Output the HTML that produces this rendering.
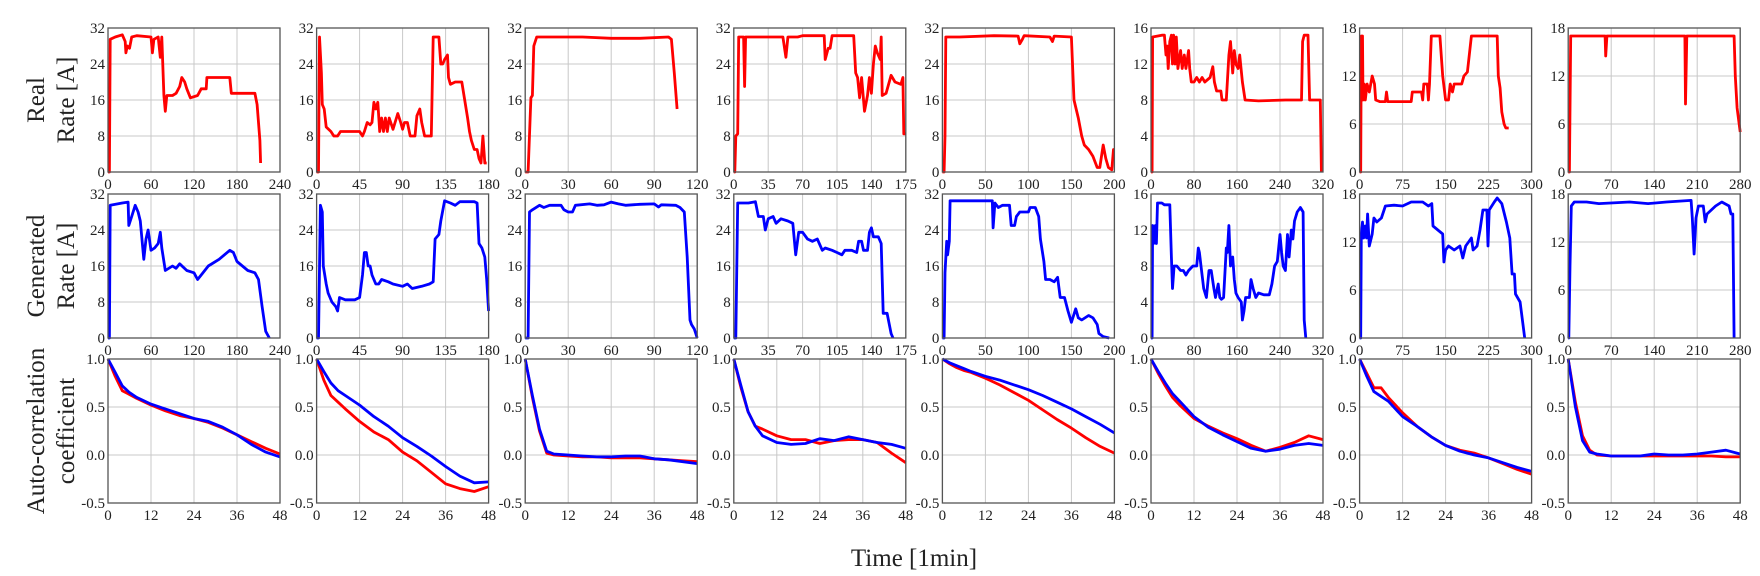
<!DOCTYPE html>
<html><head><meta charset="utf-8">
<style>
html,body{margin:0;padding:0;background:#fff;}
svg{display:block;}
text{font-family:"Liberation Serif",serif;fill:#222;}
</style></head>
<body>
<svg id="fig" width="1760" height="576" viewBox="0 0 1760 576" xmlns="http://www.w3.org/2000/svg">
<text transform="translate(44,100) rotate(-90)" text-anchor="middle" font-size="25">Real</text>
<text transform="translate(74,100) rotate(-90)" text-anchor="middle" font-size="25">Rate [A]</text>
<text transform="translate(44,266) rotate(-90)" text-anchor="middle" font-size="25">Generated</text>
<text transform="translate(74,266) rotate(-90)" text-anchor="middle" font-size="25">Rate [A]</text>
<text transform="translate(44,431) rotate(-90)" text-anchor="middle" font-size="25">Auto-correlation</text>
<text transform="translate(74,431) rotate(-90)" text-anchor="middle" font-size="25">coefficient</text>
<text x="914" y="566" text-anchor="middle" font-size="25">Time [1min]</text>
</svg>
<script>
const xMax=[240,180,120,175,200,320,300,280];
const xStep=[60,45,30,35,50,80,75,70];
const yMax=[32,32,32,32,32,16,18,18];
const yStep=[8,8,8,8,8,4,6,6];
const realData=[
[[0,0],[2,0],[3,29.5],[10,30],[20,30.5],[24,29],[25,26.5],[27,28],[30,27.5],[33,30],[40,30.3],[60,30],[62,26.5],[64,29.5],[70,30],[73,25.5],[75,30],[78,17],[80,13.5],[82,17],[90,17],[95,17.5],[100,19],[103,21],[107,20],[110,18.5],[115,16.5],[125,17],[130,18.5],[137,18.5],[138,21],[170,21],[172,17.5],[205,17.5],[208,15],[212,7],[213,2]],
[[0,0],[2,0],[3,30],[5,22],[6,15],[8,14],[10,10],[15,9],[18,8],[22,8],[25,9],[45,9],[48,8],[50,9],[53,11],[56,10.5],[58,11],[60,15.5],[62,14],[64,15.5],[66,9],[68,12],[70,9],[72,12],[74,9],[76,12],[80,9.5],[85,13],[88,11],[90,9.5],[92,11],[95,11],[98,8],[103,8],[105,12.5],[108,14],[110,11],[113,8],[120,8],[122,30],[128,30],[130,24],[132,24],[134,25],[137,26],[138,21],[140,19.5],[145,20],[152,20],[155,16],[158,12],[160,9],[162,7],[165,5],[168,5],[170,3],[172,2],[174,8],[176,2],[178,2]],
[[0,0],[2,0],[4,16.5],[5,17],[6,28],[8,30],[20,30],[40,30],[60,29.7],[80,29.7],[100,30],[102,29.5],[104,22],[106,14]],
[[0,0],[1,0],[2,8],[4,8.5],[5,30],[10,30],[11,19],[12,30],[20,30],[50,30],[53,25.5],[55,30],[65,30],[70,30.3],[92,30.3],[93,25],[96,27.5],[98,27.5],[100,30.3],[122,30.3],[124,22],[126,21],[128,16.5],[130,21],[133,13.5],[136,17],[138,21],[140,17.5],[142,24],[144,28],[146,26.5],[149,25],[150,30],[151,17],[155,17.5],[160,21.5],[164,20],[170,19.5],[172,21],[173,8.5],[175,8.5]],
[[0,0],[2,0],[3,8],[4,30],[20,30],[60,30.3],[88,30.2],[90,28.5],[93,29.5],[95,30.3],[125,30],[128,29],[130,30.2],[150,30],[153,16],[158,12],[162,8],[165,6],[170,5],[175,3.5],[180,1],[183,1],[187,6],[190,3],[193,1],[197,0.5],[199,5],[200,5]],
[[0,0],[2,0],[3,15],[20,15.2],[25,15.2],[28,13],[30,14],[32,11.5],[35,14.5],[38,15.2],[40,12],[42,15.2],[45,12],[47,15],[50,11.5],[55,13.5],[58,11.5],[62,13],[65,11.5],[70,13.5],[72,11.5],[75,10],[80,10],[85,10.5],[90,10],[95,10.5],[100,10],[110,10.5],[115,11.7],[118,10],[122,9],[130,9],[132,8],[140,8],[145,13],[148,14.5],[152,11],[155,13.5],[158,12],[162,11.5],[165,13],[170,10],[175,8],[200,7.9],[250,8],[280,8],[282,14.5],[285,15.2],[292,15.2],[295,8],[305,8],[315,8],[317,0]],
[[0,0],[2,0],[3,17],[5,17],[6,9],[8,11],[10,9],[13,11],[17,10],[22,12],[26,11],[28,9],[35,8.8],[45,8.8],[47,10],[49,8.8],[60,8.8],[90,8.8],[92,10],[100,10],[108,10],[110,9],[112,11],[118,11],[120,9],[122,11],[125,17],[140,17],[145,12],[150,9],[155,9],[158,11],[162,10],[165,11],[178,11],[182,12],[188,12.5],[195,17],[240,17],[242,12],[245,10.5],[248,7.5],[252,6],[255,5.5],[260,5.5]],
[[0,0],[2,0],[4,17],[60,17],[61,14.5],[63,17],[190,17],[191,8.5],[193,17],[270,17],[272,12],[275,8],[280,5]]
];
const genData=[
[[0,0],[2,0],[3,29.5],[20,30],[28,30.2],[29,25],[33,27],[38,29.5],[42,28],[45,26],[50,17.5],[53,22],[56,24],[60,19.5],[65,20],[70,21],[73,23.5],[75,20],[80,15],[90,16],[95,15.5],[100,16.5],[110,15],[120,14.5],[125,13],[130,14],[140,16],[155,17.5],[170,19.5],[175,19],[180,17],[195,15],[205,14.5],[210,13],[215,7],[220,1.5],[225,0]],
[[0,0],[2,0],[4,29.5],[6,28],[7,16],[10,12],[12,10],[16,8],[20,7],[22,6],[24,9],[30,8.5],[40,8.5],[45,9],[48,14],[50,19],[52,19],[54,16],[56,16],[58,14],[62,12],[65,12],[68,13],[75,12.5],[80,12],[90,11.5],[95,12],[100,11],[110,11.5],[118,12],[122,12.5],[124,22],[128,23],[130,26],[134,30.5],[140,30],[145,29.5],[150,30.3],[165,30.3],[168,30],[170,21],[173,20],[176,18],[178,13],[180,6]],
[[0,0],[2,0],[3,28],[5,28.5],[10,29.5],[13,29],[17,29.5],[25,29.5],[27,28.5],[30,28],[33,28],[35,29.5],[45,29.8],[50,29.5],[55,29.6],[60,30.2],[65,29.8],[70,29.5],[80,29.7],[90,29.8],[93,29.1],[95,29.6],[105,29.5],[108,29],[111,28],[113,18],[115,4],[116,3],[118,2],[120,0]],
[[0,0],[2,0],[4,30],[15,30],[22,30.3],[25,27],[30,27],[32,24],[35,26.5],[40,27],[43,25.5],[48,26.5],[55,26],[60,25.5],[63,18.5],[66,23.5],[70,23.5],[75,22],[80,21.5],[85,22],[90,19.5],[93,20],[100,19.5],[105,19],[110,18.5],[113,19.5],[120,19.5],[125,19],[127,21.5],[130,21.5],[132,19.5],[136,19.5],[138,23.5],[140,24.5],[142,22.5],[147,22.5],[150,21],[152,5.5],[156,5.5],[160,1],[162,0]],
[[0,0],[2,0],[3,14.5],[5,21.5],[6,18.5],[8,21.5],[9,30.5],[20,30.5],[40,30.5],[58,30.5],[59,24.5],[61,30],[65,29],[70,29.5],[78,29.5],[80,25],[84,25],[86,27],[90,28],[100,28],[102,29],[108,29],[112,27],[114,22],[118,17],[120,13],[125,13],[130,12.5],[134,13.5],[137,9],[142,9],[146,6],[150,3.5],[155,6.5],[158,4.5],[162,4],[170,5],[175,4.5],[180,3],[182,1],[187,0.3],[194,0]],
[[0,0],[2,0],[3,12.5],[5,10.5],[8,12.5],[10,10.5],[12,15],[20,15],[25,14.8],[35,14.8],[38,9],[40,5.5],[43,8],[48,8],[55,7.5],[60,7.5],[65,7],[70,7.5],[78,8],[85,8],[88,10],[90,9.5],[93,8],[98,5.5],[103,4.5],[108,7.5],[112,7.5],[117,5.5],[120,4.5],[125,6],[128,4.5],[131,4.3],[135,4.5],[140,10],[142,9.5],[145,12.5],[148,8],[152,9],[155,6.5],[158,5],[162,4.5],[168,4],[170,2],[173,3],[176,4.5],[183,4.5],[186,6.5],[190,5.5],[195,4.5],[200,5],[210,4.8],[220,4.8],[225,6],[230,8],[235,8.5],[240,11.5],[243,9.5],[246,8],[250,7.5],[254,11.5],[257,9],[261,12],[264,11],[267,13],[272,14],[278,14.5],[283,14],[285,2],[288,0]],
[[0,0],[2,0],[3,13],[5,14.5],[7,12.5],[10,14],[12,12.5],[14,15.5],[17,11.5],[22,13],[25,15],[30,14.5],[38,15],[45,16.5],[60,16.6],[75,16.5],[90,17],[110,17],[120,16.5],[126,16.8],[128,14],[145,13],[147,9.5],[150,11],[155,11.5],[165,11],[175,11.5],[180,10],[185,11.5],[195,12.5],[198,11],[205,11.5],[210,13.5],[215,16],[222,16],[224,11.5],[226,16],[235,17],[240,17.5],[248,16.8],[256,14.5],[262,12.5],[266,8],[270,8],[272,5.5],[280,4.5],[288,0]],
[[0,0],[1,0],[3,9],[5,16.5],[10,17],[30,17],[50,16.8],[100,17],[130,16.8],[160,17],[200,17.2],[202,15],[205,10.5],[208,15],[212,16.5],[220,16.5],[223,14.5],[226,15.5],[240,16.5],[250,17],[262,16.5],[265,15.5],[268,15.5],[270,0]]
];
const lags=[0,2,4,6,8,12,16,20,24,28,32,36,40,44,48];
const acfReal=[
[1,0.82,0.67,0.63,0.59,0.52,0.46,0.41,0.38,0.34,0.28,0.21,0.14,0.07,0.01],
[1,0.78,0.62,0.55,0.48,0.35,0.24,0.16,0.03,-0.06,-0.18,-0.3,-0.35,-0.38,-0.33],
[1,0.6,0.25,0.02,0.0,-0.01,-0.02,-0.02,-0.03,-0.03,-0.03,-0.04,-0.05,-0.06,-0.07],
[1,0.7,0.45,0.3,0.27,0.2,0.16,0.16,0.12,0.15,0.16,0.16,0.13,0.02,-0.08],
[1,0.95,0.91,0.88,0.86,0.8,0.73,0.65,0.57,0.47,0.37,0.28,0.18,0.09,0.02],
[1,0.85,0.72,0.6,0.52,0.38,0.3,0.23,0.17,0.1,0.04,0.08,0.13,0.2,0.16],
[1,0.85,0.7,0.7,0.6,0.44,0.3,0.19,0.1,0.05,0.02,-0.03,-0.09,-0.15,-0.2],
[1,0.55,0.2,0.05,0,-0.01,-0.01,-0.01,-0.01,-0.01,-0.01,-0.01,-0.01,-0.02,-0.02]
];
const acfGen=[
[1,0.86,0.72,0.65,0.6,0.53,0.48,0.43,0.38,0.35,0.29,0.21,0.11,0.03,-0.02],
[1,0.87,0.75,0.67,0.62,0.52,0.4,0.3,0.18,0.09,-0.01,-0.12,-0.22,-0.29,-0.28],
[1,0.62,0.27,0.04,0.01,0,-0.01,-0.02,-0.02,-0.01,-0.01,-0.04,-0.05,-0.07,-0.09],
[1,0.72,0.45,0.3,0.2,0.13,0.11,0.12,0.17,0.15,0.19,0.16,0.13,0.11,0.07],
[1,0.96,0.93,0.9,0.87,0.82,0.78,0.73,0.68,0.62,0.55,0.48,0.4,0.32,0.23],
[1,0.87,0.75,0.64,0.56,0.4,0.29,0.21,0.14,0.07,0.04,0.06,0.1,0.12,0.1],
[1,0.82,0.66,0.61,0.56,0.4,0.3,0.19,0.1,0.04,0,-0.03,-0.08,-0.13,-0.17],
[1,0.5,0.15,0.03,0.01,-0.01,-0.01,-0.01,0.01,0,0,0.01,0.03,0.05,0.01]
];
const acfTicks=[-0.5,0,0.5,1.0];
const acfXTicks=[0,12,24,36,48];

const NS='http://www.w3.org/2000/svg';
const svg=document.getElementById('fig');
const rowTop=[28,194,359], PH=144, PW=172;
function mk(tag,attrs,parent){const e=document.createElementNS(NS,tag);for(const k in attrs)e.setAttribute(k,attrs[k]);(parent||svg).appendChild(e);return e;}
function range(max,step){const a=[];for(let v=0;v<=max+1e-9;v+=step)a.push(v);return a;}
function panel(col,row,x0,x1,xt,y0,y1,yt,ylab,xlab,series){
  const L=108+col*208.6, T=rowTop[row];
  const g=mk('g',{});
  
  
  const sx=v=>L+(v-x0)/(x1-x0)*PW, sy=v=>T+PH-(v-y0)/(y1-y0)*PH;
  xt.forEach((v,i)=>{const l=mk('line',{x1:sx(v),x2:sx(v),y1:T,y2:T+PH,stroke:'#c8c8c8','stroke-width':1},g);
    
    const t=mk('text',{x:sx(v),y:T+PH+17,'text-anchor':'middle','font-size':15},g);t.textContent=xlab[i];
    });
  yt.forEach((v,i)=>{const l=mk('line',{x1:L,x2:L+PW,y1:sy(v),y2:sy(v),stroke:'#c8c8c8','stroke-width':1},g);
    
    const t=mk('text',{x:L-3,y:sy(v)+5,'text-anchor':'end','font-size':15},g);t.textContent=ylab[i];
    });
  series.forEach(s=>{const p=mk('polyline',{points:s.pts.map(q=>sx(q[0]).toFixed(1)+','+sy(q[1]).toFixed(1)).join(' '),fill:'none',stroke:s.c,'stroke-width':2.8,'stroke-linejoin':'round'},g);
    });
  const r=mk('rect',{x:L,y:T,width:PW,height:PH,fill:'none',stroke:'#555','stroke-width':1.3},g);
  
}
for(let c=0;c<8;c++){
  const xs=range(xMax[c],xStep[c]);
  const ys=range(yMax[c],yStep[c]);
  const xl=xs.map(v=>String(v)), yl=ys.map(v=>String(v));
  panel(c,0,0,xMax[c],xs,0,yMax[c],ys,yl,xl,[{pts:realData[c],c:'#ff0000',n:'real-rate-line'}]);
  panel(c,1,0,xMax[c],xs,0,yMax[c],ys,yl,xl,[{pts:genData[c],c:'#0000ff',n:'generated-rate-line'}]);
  panel(c,2,0,48,acfXTicks,-0.5,1,acfTicks,acfTicks.map(v=>v.toFixed(1)),acfXTicks.map(String),
    [{pts:lags.map((l,i)=>[l,acfReal[c][i]]),c:'#ff0000',n:'acf-real-line'},{pts:lags.map((l,i)=>[l,acfGen[c][i]]),c:'#0000ff',n:'acf-generated-line'}]);
}
</script>
</body></html>
